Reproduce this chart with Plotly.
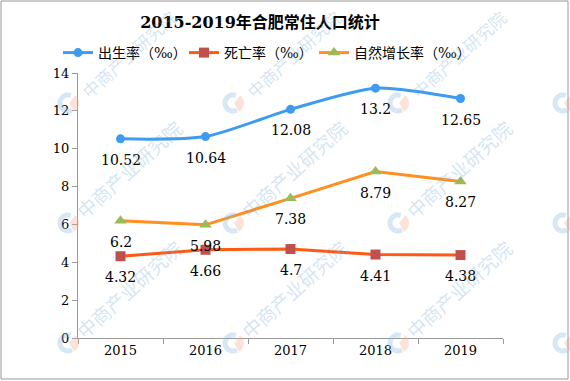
import math
import plotly.graph_objects as go

years = ["2015", "2016", "2017", "2018", "2019"]
birth = [10.52, 10.64, 12.08, 13.2, 12.65]
death = [4.32, 4.66, 4.7, 4.41, 4.38]
natural = [6.2, 5.98, 7.38, 8.79, 8.27]
labels_birth = ["10.52", "10.64", "12.08", "13.2", "12.65"]
labels_death = ["4.32", "4.66", "4.7", "4.41", "4.38"]
labels_natural = ["6.2", "5.98", "7.38", "8.79", "8.27"]

W, H = 570, 381
L, R, T, B = 78, 67, 73, 43
NUM_FONT = "DejaVu Serif, Noto Sans CJK SC"

fig = go.Figure()
fig.add_trace(go.Scatter(
    x=years, y=birth, name="出生率（‰）", mode="lines+markers", legend="legend",
    line=dict(color="#3D9BF0", width=3, shape="spline", smoothing=0.7),
    marker=dict(color="#3D9BF0", size=9, symbol="circle"),
))
fig.add_trace(go.Scatter(
    x=years, y=death, name="死亡率（‰）", mode="lines+markers", legend="legend2",
    line=dict(color="#FF5A14", width=3),
    marker=dict(color="#C0504D", size=10, symbol="square"),
))
fig.add_trace(go.Scatter(
    x=years, y=natural, name="自然增长率（‰）", mode="lines+markers", legend="legend3",
    line=dict(color="#FF8F1F", width=3),
    marker=dict(color="#9BBB59", size=11, symbol="triangle-up"),
))

pw, ph = W - L - R, H - T - B
def px(x):
    return (x - L) / pw
def py(y):
    return (H - B - y) / ph

annotations = []
for vals, labs in [(birth, labels_birth), (death, labels_death), (natural, labels_natural)]:
    for i, (yv, t) in enumerate(zip(vals, labs)):
        annotations.append(dict(
            x=i, y=yv, xref="x", yref="y", text=t, showarrow=False,
            yshift=-21, xanchor="center", yanchor="middle",
            font=dict(family=NUM_FONT, size=14, color="#000000"),
        ))

# watermark (text + faint logo)
shapes = []
def arc_path(cx, cy, r, a0, a1, n=24, pie=False):
    pts = []
    for k in range(n + 1):
        a = math.radians(a0 + (a1 - a0) * k / n)
        pts.append((px(cx + r * math.cos(a)), py(cy - r * math.sin(a))))
    d = f"M{px(cx)},{py(cy)} L" if pie else "M"
    d += " L".join(f"{x:.5f},{y:.5f}" for x, y in pts)
    if pie:
        d += " Z"
    return d

for ly in [103, 223, 343]:
    for lx in [68, 233, 398, 563]:
        if lx < 500:
            top = ly < 150
            annotations.append(dict(
                text="中商产业研究院", x=px(lx + 60), y=py(ly - 49 if top else ly - 54),
                xref="paper", yref="paper", xanchor="center", yanchor="middle",
                showarrow=False, textangle=-42,
                font=dict(family="Noto Sans CJK SC", size=17 if top else 19,
                          color="rgba(110,165,215,0.30)"),
            ))
        shapes.append(dict(type="path", xref="paper", yref="paper",
                           path=arc_path(lx, ly, 8, 70, 300),
                           line=dict(color="rgba(140,185,225,0.35)", width=5), layer="above"))
        shapes.append(dict(type="path", xref="paper", yref="paper",
                           path=arc_path(lx + 1, ly, 10, -60, 50, pie=True),
                           fillcolor="rgba(245,175,150,0.35)", line=dict(width=0), layer="above"))

shapes.append(dict(type="rect", xref="paper", yref="paper",
                   x0=px(1), x1=px(568), y0=py(379), y1=py(1),
                   line=dict(color="#999999", width=1), layer="above"))

LEG_FONT = dict(family="DejaVu Serif, Noto Sans CJK SC", size=14, color="#000000")
def leg(xpix):
    return dict(orientation="h", x=px(xpix), xref="paper", xanchor="left",
                y=py(53), yref="paper", yanchor="middle", font=LEG_FONT,
                bgcolor="rgba(0,0,0,0)")

fig.update_layout(
    width=W, height=H,
    margin=dict(l=L, r=R, t=T, b=B, autoexpand=False),
    paper_bgcolor="white", plot_bgcolor="white",
    title=dict(text="<b>2015-2019年合肥常住人口统计</b>", x=260 / W, xref="container",
               xanchor="center", y=1 - 22 / H, yref="container", yanchor="middle",
               font=dict(family="DejaVu Serif, Noto Sans CJK SC", size=16, color="#000000")),
    legend=leg(58), legend2=leg(184), legend3=leg(314),
    showlegend=True,
    xaxis=dict(type="category", range=[-0.5, 4.5], showline=True, linecolor="#999999",
               linewidth=1, ticks="outside", tickson="boundaries", ticklen=5,
               tickcolor="#999999", showgrid=False, zeroline=False,
               tickfont=dict(family=NUM_FONT, size=13, color="#000000")),
    yaxis=dict(range=[0, 14], dtick=2, showline=True, linecolor="#999999", linewidth=1,
               ticks="outside", ticklen=5, tickcolor="#999999", showgrid=False,
               zeroline=False, tickfont=dict(family=NUM_FONT, size=13, color="#000000")),
    annotations=annotations,
    shapes=shapes,
)

fig.write_html("out.html", config={"displayModeBar": False},
               post_script="document.body.style.margin='0';document.body.style.overflow='hidden';")
